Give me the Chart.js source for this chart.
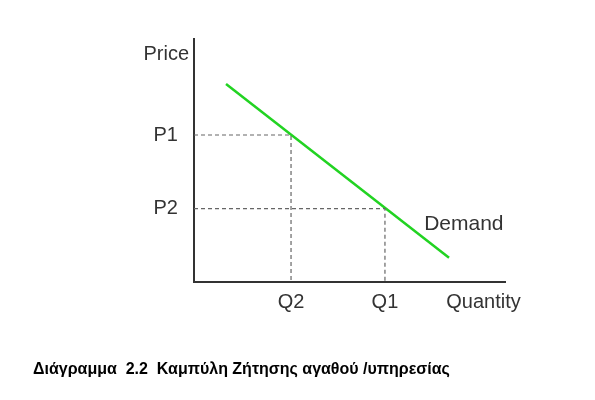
<!DOCTYPE html>
<html>
<head>
<meta charset="utf-8">
<script src="https://cdn.jsdelivr.net/npm/chart.js@4.4.1/dist/chart.umd.min.js"></script>
<style>
  html, body { margin: 0; padding: 0; background: #fff; }
  #wrap { width: 595px; height: 400px; }
</style>
</head>
<body>
<div id="wrap"><canvas id="demandChart" width="595" height="400"></canvas></div>
<script>
// demand curve end points (quantity, price)
const demandQ = [1.03, 8.2];
const demandP = [8.15, 1.0];

// the two marked points on the curve
const pointQ = [3.12, 6.14];   // Q2, Q1
const pointP = [6.05, 3.02];   // P1, P2

// axis labels
const xTickValues = [3.12, 6.14, 9.31];
const xTickLabels = ['Q2', 'Q1', 'Quantity'];
const yTickValues = [3.02, 6.05, 9.38];
const yTickLabels = ['P2', 'P1', 'Price'];

const curveLabel = 'Demand';
const curveLabelPos = [7.4, 2.39];
const caption = 'Διάγραμμα  2.2  Καμπύλη Ζήτησης αγαθού /υπηρεσίας';

const textColor = '#333';
const axisFont = { family: 'Liberation Sans, Arial, sans-serif', size: 20 };

const dashStyle = {
    borderColor: '#666',
    borderWidth: 1.2,
    borderDash: [4, 3],
    pointRadius: 0,
    showLine: true,
    fill: false,
};

// writes the curve name next to the line
const curveLabelPlugin = {
    id: 'curveLabel',
    afterDatasetsDraw(chart) {
        const ctx = chart.ctx;
        const x = chart.scales.x.getPixelForValue(curveLabelPos[0]);
        const y = chart.scales.y.getPixelForValue(curveLabelPos[1]);
        ctx.save();
        ctx.font = '21px Liberation Sans, Arial, sans-serif';
        ctx.fillStyle = textColor;
        ctx.textAlign = 'left';
        ctx.textBaseline = 'middle';
        ctx.fillText(curveLabel, x, y);
        ctx.restore();
    }
};

const ctx = document.getElementById('demandChart').getContext('2d');
new Chart(ctx, {
    type: 'scatter',
    data: {
        datasets: [{
                label: 'P1 / Q2',
                data: [
                    { x: 0, y: pointP[0] },
                    { x: pointQ[0], y: pointP[0] },
                    { x: pointQ[0], y: 0 }
                ],
                ...dashStyle,
            },
            {
                label: 'P2 / Q1',
                data: [
                    { x: 0, y: pointP[1] },
                    { x: pointQ[1], y: pointP[1] },
                    { x: pointQ[1], y: 0 }
                ],
                ...dashStyle,
            },
            {
                label: curveLabel,
                data: demandQ.map((q, i) => ({ x: q, y: demandP[i] })),
                showLine: true,
                borderColor: '#22d322',
                borderWidth: 2.5,
                pointRadius: 0,
                fill: false,
            }
        ]
    },
    options: {
        responsive: false,
        animation: false,
        layout: { padding: { left: 33, right: 90, top: 39, bottom: 20.4 } },
        scales: {
            x: {
                type: 'linear',
                min: 0,
                max: 10,
                grid: { display: false, drawTicks: false },
                border: { display: true, color: '#333', width: 2 },
                afterBuildTicks: (scale) => { scale.ticks = xTickValues.map(v => ({ value: v })); },
                afterFit: (scale) => { scale.height = 78.4; },
                ticks: {
                    autoSkip: false,
                    maxRotation: 0,
                    padding: 8,
                    color: textColor,
                    font: axisFont,
                    callback: (value, index) => xTickLabels[index],
                }
            },
            y: {
                type: 'linear',
                min: 0,
                max: 10,
                grid: { display: false, drawTicks: false },
                border: { display: true, color: '#333', width: 2 },
                afterBuildTicks: (scale) => { scale.ticks = yTickValues.map(v => ({ value: v })); },
                afterFit: (scale) => { scale.width = 161; },
                ticks: {
                    autoSkip: false,
                    padding: 5,
                    color: textColor,
                    font: axisFont,
                    // P labels sit a little further from the axis than "Price"
                    callback: (value, index) => index < 2 ? yTickLabels[index] + '  ' : yTickLabels[index],
                }
            }
        },
        plugins: {
            legend: { display: false },
            tooltip: { enabled: false },
            title: {
                display: true,
                text: caption,
                position: 'bottom',
                align: 'start',
                color: '#000',
                padding: { top: 0, bottom: 0 },
                font: { family: 'Liberation Sans, Arial, sans-serif', size: 16, weight: 'bold' },
            }
        }
    },
    plugins: [curveLabelPlugin]
});
</script>
</body>
</html>
